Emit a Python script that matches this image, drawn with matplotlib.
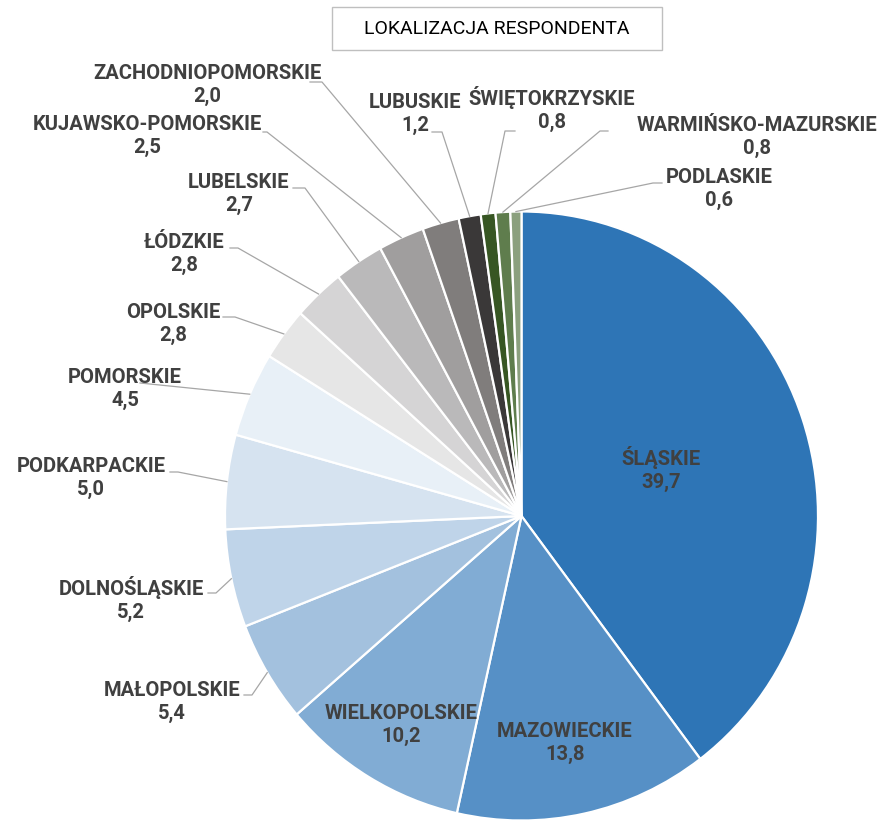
import numpy as np
import matplotlib.pyplot as plt
from matplotlib.lines import Line2D
from matplotlib.patches import Rectangle

# data (percent of respondents by voivodeship), clockwise from top
regions = ['ŚLĄSKIE', 'MAZOWIECKIE', 'WIELKOPOLSKIE', 'MAŁOPOLSKIE', 'DOLNOŚLĄSKIE',
           'PODKARPACKIE', 'POMORSKIE', 'OPOLSKIE', 'ŁÓDZKIE', 'LUBELSKIE',
           'KUJAWSKO-POMORSKIE', 'ZACHODNIOPOMORSKIE', 'LUBUSKIE', 'ŚWIĘTOKRZYSKIE',
           'WARMIŃSKO-MAZURSKIE', 'PODLASKIE']
values = [39.7, 13.8, 10.2, 5.4, 5.2, 5.0, 4.5, 2.8, 2.8, 2.7, 2.5, 2.0, 1.2, 0.8, 0.8, 0.6]
colors = ['#2E75B6', '#5690C6', '#81ACD4', '#A3C1DE', '#BFD4E9', '#D6E3F0', '#E8F0F7',
          '#E6E6E6', '#D5D4D5', '#BAB9BA', '#A09E9E', '#807D7C', '#3A3838', '#375623',
          '#5F7D4D', '#8BA07E']
title = 'LOKALIZACJA RESPONDENTA'

W, H = 883, 826
CX, CY, RX, RY = 521.5, 516, 296.5, 304.5
TEXT_COLOR = '#404040'
LINE_COLOR = '#A6A6A6'

# label layout in pixels: text block centre, then leader points on the label side
label_layout = {
    'ŚLĄSKIE': (661, 469, None),
    'MAZOWIECKIE': (565, 743, None),
    'WIELKOPOLSKIE': (401, 725, None),
    'MAŁOPOLSKIE': (172, 702, [(244, 695), (252, 695)]),
    'DOLNOŚLĄSKIE': (131, 599, [(208, 593), (216, 593)]),
    'PODKARPACKIE': (91, 478, [(170, 472), (178, 472)]),
    'POMORSKIE': (125, 389, [(140, 383)]),
    'OPOLSKIE': (173, 324, [(223, 317), (235, 317)]),
    'ŁÓDZKIE': (184, 254, [(230, 248), (238, 248)]),
    'LUBELSKIE': (239, 194, [(293, 188), (305, 188)]),
    'KUJAWSKO-POMORSKIE': (147, 136, [(263, 132), (267, 132)]),
    'ZACHODNIOPOMORSKIE': (207, 85, [(310, 82), (322, 82)]),
    'LUBUSKIE': (415, 114, [(432, 132), (442, 132)]),
    'ŚWIĘTOKRZYSKIE': (552, 109, [(515, 131), (505, 131)]),
    'WARMIŃSKO-MAZURSKIE': (757, 137, [(608, 131), (600, 131)]),
    'PODLASKIE': (719, 189, [(662, 183), (653, 183)]),
}


def fig_xy(x, y):
    return x / W, 1 - y / H


fig = plt.figure(figsize=(W / 100, H / 100), dpi=100)
ax = fig.add_axes([(CX - RX) / W, (H - CY - RY) / H, 2 * RX / W, 2 * RY / H])
ax.pie(values, colors=colors, startangle=90, counterclock=False, radius=1,
       wedgeprops=dict(edgecolor='white', linewidth=1.6))
ax.set_aspect('auto')
ax.set_xlim(-1, 1)
ax.set_ylim(-1, 1)
ax.axis('off')

cum = np.cumsum(values)
for name, val, c in zip(regions, values, cum):
    tx, ty, leader = label_layout[name]
    if leader is not None:
        mid = c - val / 2
        theta = np.radians(90 - 3.6 * mid)
        pts = leader + [(CX + RX * np.cos(theta), CY - RY * np.sin(theta))]
        xs = [p[0] / W for p in pts]
        ys = [1 - p[1] / H for p in pts]
        fig.add_artist(Line2D(xs, ys, transform=fig.transFigure,
                              color=LINE_COLOR, lw=0.9, zorder=3))
    fx, fy = fig_xy(tx, ty)
    fig.text(fx, fy, f"{name}\n{val:.1f}".replace('.', ','), ha='center', va='center',
             fontsize=14.5, fontweight='bold', color=TEXT_COLOR, family='Roboto',
             linespacing=1.3, zorder=4)

# title box
bx, by = fig_xy(332, 50)
fig.add_artist(Rectangle((bx, by), 330 / W, 43 / H, transform=fig.transFigure,
                         facecolor='white', edgecolor='#BFBFBF', lw=1))
tx, ty = fig_xy(497, 29)
fig.text(tx, ty, title, ha='center', va='center', fontsize=14, color='black',
         family='Roboto')

fig.savefig('out.png', dpi=100)
